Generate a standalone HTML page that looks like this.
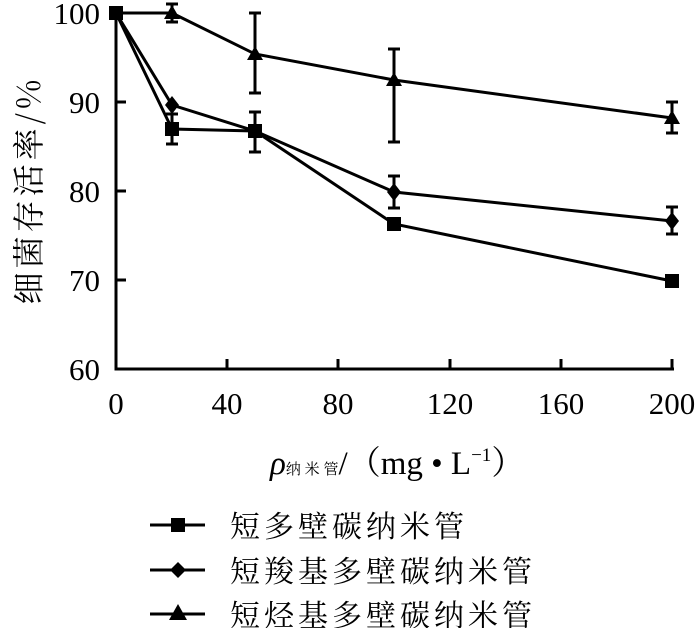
<!DOCTYPE html><html><head><meta charset="utf-8"><style>body{margin:0;background:#fff}</style></head><body>
<svg width="700" height="628" xmlns="http://www.w3.org/2000/svg" font-family="Liberation Serif, Noto Serif CJK SC, serif">
<rect width="700" height="628" fill="#fff"/>
<g stroke="#000" stroke-width="3" fill="none">
<path d="M116 13V369H674"/>
<path d="M116 102h10M116 191h10M116 280h10M227 369v-10M338 369v-10M450 369v-10M561 369v-10M672 369v-10"/>
</g>
<g font-size="31" text-anchor="end">
<text x="100" y="24">100</text><text x="100" y="113">90</text><text x="100" y="202">80</text><text x="100" y="291">70</text><text x="100" y="380">60</text>
</g>
<g font-size="31" text-anchor="middle">
<text x="116" y="414">0</text><text x="227" y="414">40</text><text x="338" y="414">80</text><text x="450" y="414">120</text><text x="561" y="414">160</text><text x="672" y="414">200</text>
</g>
<text transform="translate(40,190) rotate(-90)" font-size="32" text-anchor="middle" font-family="Noto Serif CJK SC, serif" letter-spacing="4">细菌存活率/%</text>
<text x="270" y="474" font-size="33"><tspan font-style="italic">ρ</tspan><tspan font-size="15" font-family="Noto Serif CJK SC, serif">纳 米 管</tspan>/（mg • L<tspan font-size="19" dy="-13">−1</tspan><tspan dy="13">）</tspan></text>
<g stroke="#000" stroke-width="3" fill="none">
<polyline points="116,13 172,13 255,54 394,80 672,118"/>
<path d="M172 4v18M166 4h12M166 22h12 M255 13v80M249 13h12M249 93h12 M394 49v93M388 49h12M388 142h12 M672 102v31M666 102h12M666 133h12"/>
<polyline points="116,13 172,105 255,131 394,192 672,221"/>
<path d="M394 176v32M388 176h12M388 208h12 M672 207v27M666 207h12M666 234h12"/>
<polyline points="116,13 172,129 255,131 394,224 672,281"/>
<path d="M172 114v30M166 114h12M166 144h12 M255 112v40M249 112h12M249 152h12"/>
</g>
<g fill="#000">
<rect x="109" y="6" width="14" height="14"/><rect x="165" y="122" width="14" height="14"/><rect x="248" y="124" width="14" height="14"/><rect x="387" y="217" width="14" height="14"/><rect x="665" y="274" width="14" height="14"/>
<path d="M172 96l7 9-7 9-7-9z M394 183l7 9-7 9-7-9z M672 212l7 9-7 9-7-9z"/>
<path d="M172 5l8 14h-16z M255 46l8 14h-16z M394 72l8 14h-16z M672 110l8 14h-16z"/>
</g>
<g stroke="#000" stroke-width="3"><path d="M150 525h55M150 570h55M150 614h55"/></g>
<g fill="#000"><rect x="171" y="518" width="14" height="14"/><path d="M178 562l8 8-8 8-8-8z M178 604l9 16h-18z"/></g>
<g font-size="30" font-family="Noto Serif CJK SC, serif" letter-spacing="4">
<text x="230" y="537">短多壁碳纳米管</text><text x="230" y="582">短羧基多壁碳纳米管</text><text x="230" y="626">短烃基多壁碳纳米管</text>
</g>
</svg></body></html>
